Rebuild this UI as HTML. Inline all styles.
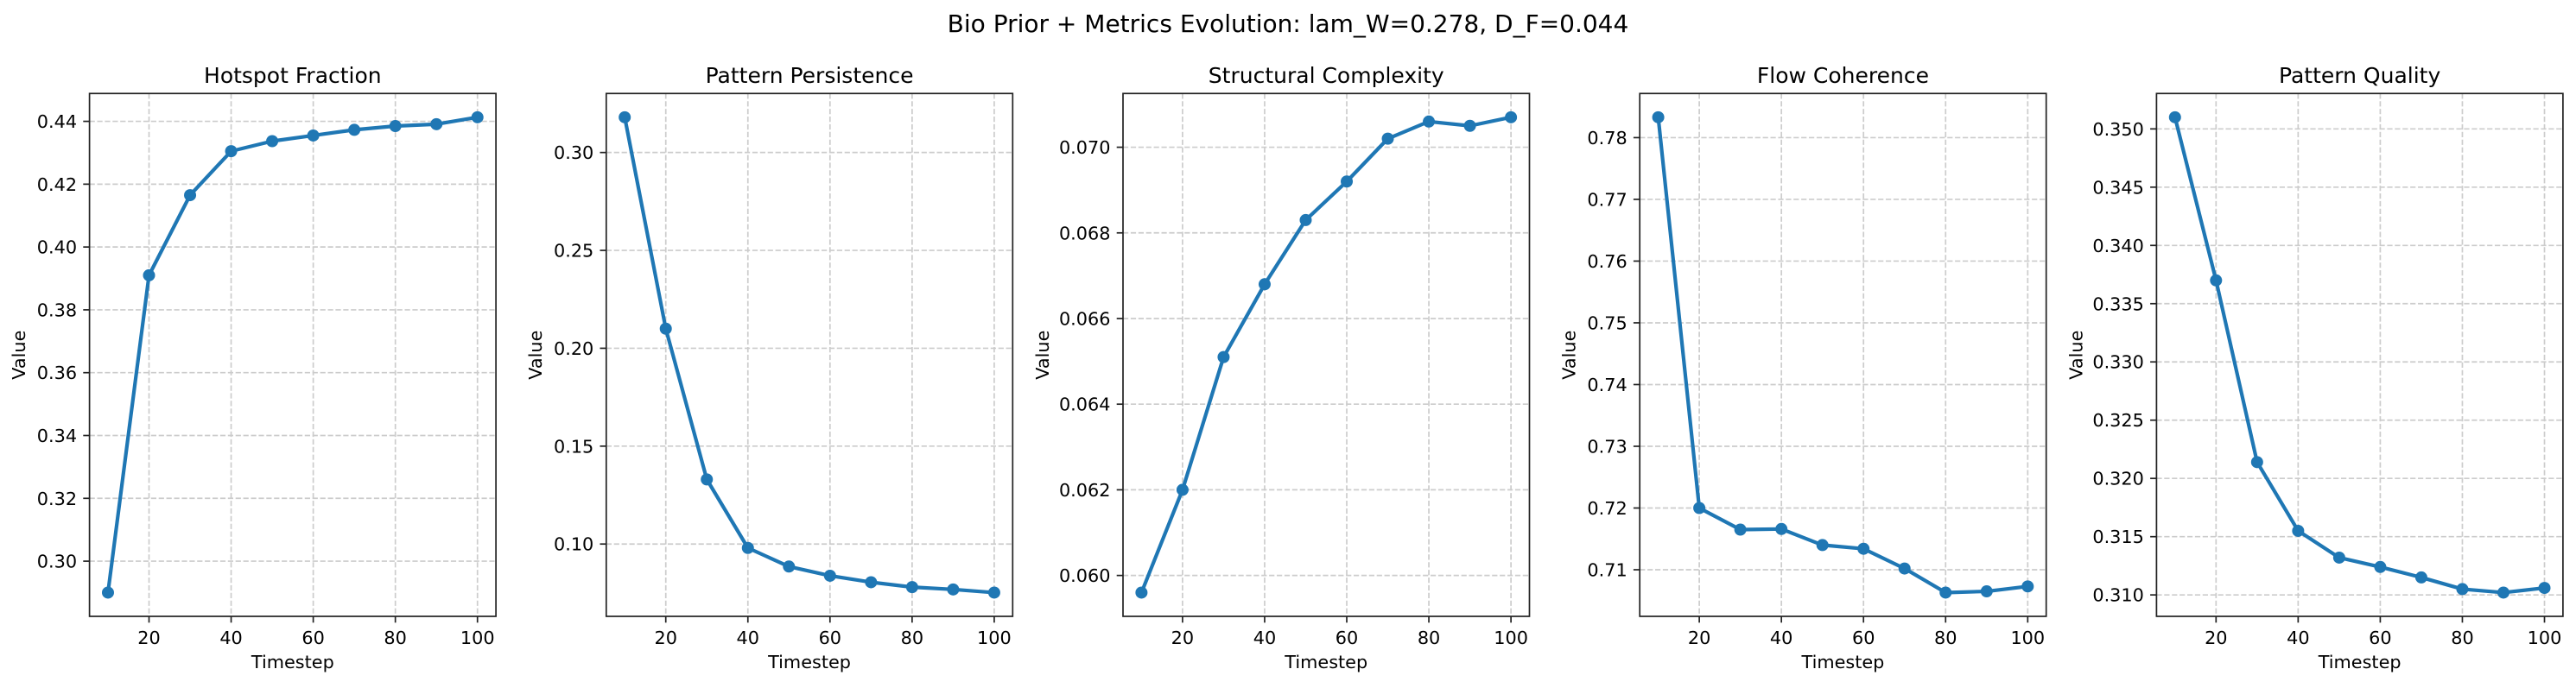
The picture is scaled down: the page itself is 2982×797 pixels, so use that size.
<!DOCTYPE html>
<html><head><meta charset="utf-8"><style>
html,body{margin:0;padding:0;background:#fff;}
svg text{font-family:"DejaVu Sans","Liberation Sans",sans-serif;fill:#000;}
</style></head><body>
<svg id="fig" width="2982" height="792" viewBox="0 0 2982 792" xmlns="http://www.w3.org/2000/svg">
<rect width="2982" height="792" fill="#fff"/>
<text x="1491" y="37" font-size="28" text-anchor="middle">Bio Prior + Metrics Evolution: lam_W=0.278, D_F=0.044</text>
</svg>
<script>
const timesteps = [10,20,30,40,50,60,70,80,90,100];
const titles = ["Hotspot Fraction","Pattern Persistence","Structural Complexity","Flow Coherence","Pattern Quality"];
const hotspotValues = [0.290,0.391,0.4165,0.4305,0.4337,0.4355,0.4373,0.4385,0.4391,0.4413];
const persistenceValues = [0.318,0.210,0.133,0.098,0.0885,0.0838,0.0805,0.0780,0.0768,0.0752];
const complexityValues = [0.0596,0.0620,0.0651,0.0668,0.0683,0.0692,0.0702,0.0706,0.0705,0.0707];
const coherenceValues = [0.7833,0.7200,0.7165,0.7166,0.7140,0.7134,0.7102,0.7063,0.7065,0.7073];
const qualityValues = [0.3510,0.3370,0.3214,0.3155,0.3132,0.3124,0.3115,0.3105,0.3102,0.3106];
const xTicks = [20,40,60,80,100];
const yTicks1 = [0.30,0.32,0.34,0.36,0.38,0.40,0.42,0.44];
const yTicks2 = [0.10,0.15,0.20,0.25,0.30];
const yTicks3 = [0.060,0.062,0.064,0.066,0.068,0.070];
const yTicks4 = [0.71,0.72,0.73,0.74,0.75,0.76,0.77,0.78];
const yTicks5 = [0.310,0.315,0.320,0.325,0.330,0.335,0.340,0.345,0.350];
const series = [hotspotValues,persistenceValues,complexityValues,coherenceValues,qualityValues];
const yTickSets = [yTicks1,yTicks2,yTicks3,yTicks4,yTicks5];
const decimals = [2,2,3,2,3];

const NS="http://www.w3.org/2000/svg";
const svg=document.getElementById('fig');
function mk(tag,attrs,parent){const e=document.createElementNS(NS,tag);for(const k in attrs)e.setAttribute(k,attrs[k]);(parent||svg).appendChild(e);return e;}
const W=470.5,TOP=108.3,BOT=714,H=BOT-TOP;
for(let p=0;p<5;p++){
  const L=103.6+p*598.2,R=L+W;
  const vals=series[p];
  const g=mk('g',{});
  
  
  const xmin=Math.min(...timesteps),xmax=Math.max(...timesteps),xm=(xmax-xmin)*0.05;
  const ymin=Math.min(...vals),ymax=Math.max(...vals),ym=(ymax-ymin)*0.05;
  const x0=xmin-xm,x1=xmax+xm,y0=ymin-ym,y1=ymax+ym;
  const sx=v=>L+(v-x0)/(x1-x0)*W;
  const sy=v=>BOT-(v-y0)/(y1-y0)*H;
  xTicks.forEach(t=>{const X=sx(t);
    const gl=mk('line',{x1:X,x2:X,y1:TOP,y2:BOT,stroke:'#cccccc','stroke-width':1.7,'stroke-dasharray':'6.2,2.7'},g);
    
    
    const tk=mk('line',{x1:X,x2:X,y1:BOT,y2:BOT+7.3,stroke:'#222','stroke-width':1.7},g);
    
    
    const tl=mk('text',{x:X,y:BOT+32,'font-size':20.8,'text-anchor':'middle'},g);tl.textContent=t;
    
    
  });
  let maxw=0;
  yTickSets[p].forEach(t=>{const Y=sy(t);
    const gl=mk('line',{x1:L,x2:R,y1:Y,y2:Y,stroke:'#cccccc','stroke-width':1.7,'stroke-dasharray':'6.2,2.7'},g);
    
    
    const tk=mk('line',{x1:L-7.3,x2:L,y1:Y,y2:Y,stroke:'#222','stroke-width':1.7},g);
    
    
    const s=t.toFixed(decimals[p]);
    const tl=mk('text',{x:L-14.5,y:Y+7.5,'font-size':20.8,'text-anchor':'end'},g);tl.textContent=s;
    
    
    maxw=Math.max(maxw,s.length*11.3);
  });
  const fr=mk('rect',{x:L,y:TOP,width:W,height:H,fill:'none',stroke:'#222','stroke-width':1.7},g);
  
  
  const pts=timesteps.map((t,i)=>sx(t).toFixed(2)+','+sy(vals[i]).toFixed(2)).join(' ');
  const pl=mk('polyline',{points:pts,fill:'none',stroke:'#1f77b4','stroke-width':4.2,'stroke-linejoin':'round','stroke-linecap':'round'},g);
  
  
  timesteps.forEach((t,i)=>{
    const c=mk('circle',{cx:sx(t),cy:sy(vals[i]),r:7,fill:'#1f77b4'},g);
    
    
  });
  const tt=mk('text',{x:L+W/2,y:96,'font-size':25,'text-anchor':'middle'},g);tt.textContent=titles[p];
  
  
  const xl=mk('text',{x:L+W/2,y:774,'font-size':20.8,'text-anchor':'middle'},g);xl.textContent='Timestep';
  
  
  const cx=L-14.5-maxw-15;
  const yl=mk('text',{x:cx,y:(TOP+BOT)/2,'font-size':20.8,'text-anchor':'middle',transform:'rotate(-90 '+cx+' '+((TOP+BOT)/2)+')'},g);yl.textContent='Value';
  
  
}
</script>
</body></html>
